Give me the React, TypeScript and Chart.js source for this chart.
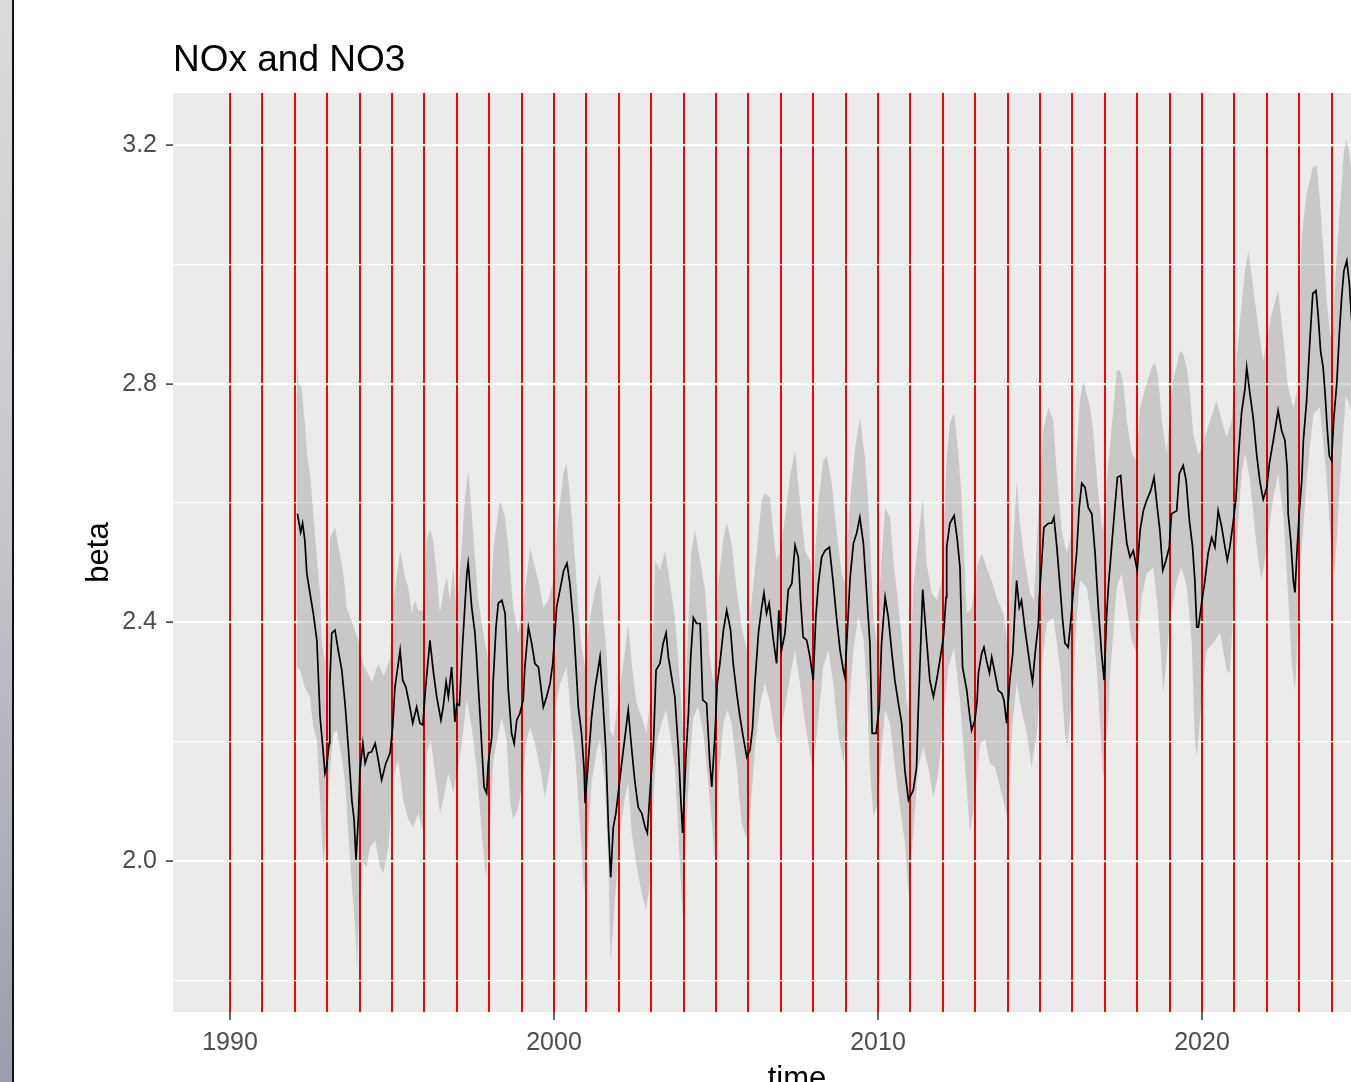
import React, { useEffect, useRef } from 'react';
import { Chart, registerables } from 'chart.js';

Chart.register(...registerables);

// ---------- text ----------
const chartTitle = 'NOx and NO3';
const xAxisTitle = 'time';
const yAxisTitle = 'beta';

// ---------- axes ----------
const vlineYears = [
  1990, 1991, 1992, 1993, 1994, 1995, 1996, 1997, 1998, 1999,
  2000, 2001, 2002, 2003, 2004, 2005, 2006, 2007, 2008, 2009,
  2010, 2011, 2012, 2013, 2014, 2015, 2016, 2017, 2018, 2019,
  2020, 2021, 2022, 2023, 2024,
];
const xLabelYears = [1990, 2000, 2010, 2020];
const yGridValues = [1.8, 2.0, 2.2, 2.4, 2.6, 2.8, 3.0, 3.2];
const yLabelValues = [2.0, 2.4, 2.8, 3.2];

// ---------- estimate line ----------
const lineTime = [
  1992.08, 1992.18, 1992.24, 1992.31, 1992.37, 1992.47, 1992.57, 1992.68, 1992.78, 1992.88, 1992.93, 1992.98,
  1993.06, 1993.08, 1993.14, 1993.24, 1993.34, 1993.45, 1993.55, 1993.65, 1993.76, 1993.83, 1993.89, 1993.96,
  1994.01, 1994.1, 1994.17, 1994.27, 1994.37, 1994.48, 1994.56, 1994.68, 1994.81, 1994.94,
  1995.02, 1995.09, 1995.25, 1995.33, 1995.43, 1995.53, 1995.64, 1995.76, 1995.86, 1995.95,
  1996.03, 1996.17, 1996.27, 1996.38, 1996.51, 1996.58, 1996.67, 1996.74, 1996.84, 1996.89, 1996.94,
  1997.0, 1997.08, 1997.18, 1997.31, 1997.35, 1997.46, 1997.56, 1997.61, 1997.72, 1997.84, 1997.92, 1997.97,
  1998.08, 1998.12, 1998.21, 1998.28, 1998.39, 1998.49, 1998.59, 1998.69, 1998.77, 1998.85, 1998.95,
  1999.05, 1999.1, 1999.21, 1999.31, 1999.41, 1999.52, 1999.67, 1999.77, 1999.88, 1999.96,
  2000.04, 2000.08, 2000.24, 2000.3, 2000.4, 2000.49, 2000.6, 2000.68, 2000.75, 2000.85, 2000.93, 2000.96,
  2001.06, 2001.16, 2001.27, 2001.37, 2001.42, 2001.5, 2001.6, 2001.68, 2001.75, 2001.83, 2001.91,
  2002.02, 2002.09, 2002.19, 2002.29, 2002.4, 2002.5, 2002.6, 2002.71, 2002.81, 2002.88, 2002.96,
  2003.07, 2003.15, 2003.27, 2003.37, 2003.46, 2003.53, 2003.63, 2003.73, 2003.84, 2003.91, 2003.97,
  2004.07, 2004.15, 2004.22, 2004.3, 2004.4, 2004.51, 2004.59, 2004.71, 2004.81, 2004.87, 2004.97,
  2005.04, 2005.12, 2005.23, 2005.33, 2005.45, 2005.53, 2005.64, 2005.74, 2005.84, 2005.95,
  2006.05, 2006.13, 2006.2, 2006.31, 2006.41, 2006.48, 2006.56, 2006.64, 2006.76, 2006.87, 2006.94,
  2007.02, 2007.13, 2007.23, 2007.34, 2007.44, 2007.54, 2007.61, 2007.69, 2007.8, 2007.9,
  2008.0, 2008.08, 2008.16, 2008.26, 2008.36, 2008.5, 2008.62, 2008.72, 2008.83, 2008.93, 2008.98,
  2009.05, 2009.14, 2009.24, 2009.34, 2009.44, 2009.55, 2009.65, 2009.75, 2009.82, 2009.94,
  2010.04, 2010.11, 2010.22, 2010.32, 2010.42, 2010.52, 2010.63, 2010.73, 2010.83, 2010.94,
  2011.09, 2011.19, 2011.24, 2011.3, 2011.38, 2011.5, 2011.6, 2011.71, 2011.81, 2011.91,
  2012.02, 2012.1, 2012.12, 2012.22, 2012.35, 2012.45, 2012.53, 2012.61, 2012.74, 2012.82, 2012.89, 2012.99,
  2013.06, 2013.1, 2013.2, 2013.27, 2013.35, 2013.44, 2013.51, 2013.61, 2013.71, 2013.82, 2013.89, 2013.97,
  2014.07, 2014.16, 2014.23, 2014.28, 2014.36, 2014.43, 2014.54, 2014.64, 2014.71, 2014.77, 2014.85, 2014.95, 2014.98,
  2015.05, 2015.12, 2015.26, 2015.36, 2015.43, 2015.52, 2015.62, 2015.7, 2015.77, 2015.87, 2015.95,
  2016.03, 2016.13, 2016.21, 2016.29, 2016.39, 2016.49, 2016.6, 2016.7, 2016.8, 2016.9, 2016.98,
  2017.06, 2017.11, 2017.21, 2017.31, 2017.39, 2017.49, 2017.57, 2017.68, 2017.78, 2017.88,
  2018.0, 2018.09, 2018.19, 2018.29, 2018.42, 2018.52, 2018.62, 2018.7, 2018.79, 2018.89, 2018.99,
  2019.06, 2019.22, 2019.3, 2019.42, 2019.51, 2019.61, 2019.71, 2019.78, 2019.84, 2019.89, 2019.99,
  2020.09, 2020.19, 2020.3, 2020.4, 2020.5, 2020.61, 2020.71, 2020.78, 2020.86, 2020.97,
  2021.05, 2021.12, 2021.22, 2021.33, 2021.38, 2021.48, 2021.58, 2021.69, 2021.79, 2021.89,
  2022.0, 2022.08, 2022.15, 2022.25, 2022.35, 2022.46, 2022.56, 2022.63, 2022.66, 2022.74, 2022.82, 2022.87, 2022.94,
  2023.0, 2023.08, 2023.13, 2023.23, 2023.33, 2023.42, 2023.52, 2023.59, 2023.66, 2023.74, 2023.8, 2023.87, 2023.93,
  2024.0, 2024.07, 2024.16, 2024.24, 2024.31, 2024.38, 2024.47, 2024.55, 2024.6, 2024.68,
];
const betaValues = [
  2.582, 2.551, 2.566, 2.537, 2.482, 2.448, 2.415, 2.37, 2.241, 2.181, 2.147, 2.157,
  2.197, 2.298, 2.382, 2.387, 2.353, 2.32, 2.264, 2.191, 2.102, 2.069, 2.002, 2.072,
  2.152, 2.197, 2.164, 2.181, 2.183, 2.197, 2.174, 2.136, 2.164, 2.181,
  2.224, 2.291, 2.353, 2.303, 2.291, 2.264, 2.231, 2.258, 2.231, 2.228,
  2.286, 2.37, 2.32, 2.275, 2.236, 2.258, 2.3, 2.275, 2.325, 2.281, 2.233,
  2.264, 2.261, 2.365, 2.482, 2.499, 2.425, 2.382, 2.342, 2.241, 2.124, 2.114, 2.164,
  2.208, 2.298, 2.392, 2.432, 2.437, 2.415, 2.286, 2.214, 2.197, 2.236, 2.248,
  2.27, 2.325, 2.392, 2.365, 2.331, 2.325, 2.258, 2.275, 2.298, 2.331,
  2.392, 2.425, 2.47, 2.487, 2.499, 2.465, 2.398, 2.325, 2.258, 2.214, 2.152, 2.097,
  2.169, 2.241, 2.291, 2.325, 2.342, 2.275, 2.186, 2.057, 1.973, 2.057, 2.08,
  2.131, 2.164, 2.208, 2.253, 2.186, 2.131, 2.09, 2.08, 2.057, 2.047, 2.114,
  2.197, 2.32, 2.331, 2.365, 2.382, 2.342, 2.308, 2.275, 2.186, 2.107, 2.047,
  2.174, 2.248, 2.342, 2.408, 2.398, 2.398, 2.27, 2.264, 2.164, 2.124, 2.214,
  2.298, 2.331, 2.387, 2.42, 2.387, 2.331, 2.281, 2.241, 2.208, 2.174,
  2.186, 2.224, 2.298, 2.382, 2.425, 2.449, 2.415, 2.432, 2.375, 2.331, 2.42,
  2.353, 2.382, 2.454, 2.465, 2.529, 2.509, 2.437, 2.375, 2.37, 2.342,
  2.303, 2.408, 2.465, 2.509, 2.52, 2.526, 2.465, 2.408, 2.353, 2.32, 2.308,
  2.382, 2.475, 2.532, 2.549, 2.576, 2.532, 2.449, 2.365, 2.214, 2.214,
  2.258, 2.365, 2.442, 2.408, 2.353, 2.303, 2.264, 2.231, 2.152, 2.102,
  2.119, 2.157, 2.248, 2.336, 2.455, 2.37, 2.303, 2.275, 2.303, 2.336,
  2.375, 2.442, 2.526, 2.566, 2.579, 2.537, 2.492, 2.325, 2.286, 2.248, 2.219, 2.236,
  2.269, 2.315, 2.348, 2.358, 2.336, 2.315, 2.342, 2.315, 2.286, 2.281, 2.269, 2.231,
  2.303, 2.348, 2.425, 2.47, 2.425, 2.437, 2.387, 2.348, 2.32, 2.3, 2.348, 2.398, 2.442,
  2.499, 2.559, 2.566, 2.566, 2.576, 2.526, 2.459, 2.403, 2.365, 2.358, 2.403,
  2.454, 2.516, 2.592, 2.633, 2.626, 2.592, 2.582, 2.516, 2.425, 2.348, 2.303,
  2.415, 2.459, 2.526, 2.592, 2.643, 2.646, 2.592, 2.532, 2.509, 2.52,
  2.487, 2.554, 2.587, 2.604, 2.621, 2.643, 2.592, 2.554, 2.487, 2.504, 2.526,
  2.582, 2.587, 2.649, 2.663, 2.638, 2.571, 2.526, 2.47, 2.392, 2.392, 2.432,
  2.47, 2.516, 2.542, 2.526, 2.587, 2.559, 2.526, 2.504, 2.526, 2.571,
  2.609, 2.676, 2.75, 2.793, 2.827, 2.783, 2.743, 2.68, 2.635, 2.606,
  2.626, 2.666, 2.688, 2.721, 2.755, 2.721, 2.705, 2.659, 2.582, 2.537, 2.47, 2.45, 2.526,
  2.582, 2.638, 2.705, 2.772, 2.872, 2.951, 2.956, 2.911, 2.855, 2.827, 2.783, 2.721, 2.679,
  2.671, 2.743, 2.8, 2.884, 2.944, 2.989, 3.006, 2.967, 2.922, 2.86,
];

// ---------- ribbon upper bound ----------
const upperTime = [
  1992.06, 1992.11, 1992.21, 1992.31, 1992.39, 1992.49, 1992.57, 1992.68, 1992.78, 1992.83, 1992.93,
  1993.03, 1993.09, 1993.24, 1993.37, 1993.5, 1993.6, 1993.77, 1993.96,
  1994.06, 1994.2, 1994.38, 1994.57, 1994.75, 1994.94,
  1995.04, 1995.25, 1995.4, 1995.5, 1995.61, 1995.71, 1995.81, 1995.97,
  1996.07, 1996.17, 1996.27, 1996.38, 1996.48, 1996.58, 1996.69, 1996.79, 1996.89,
  1997.0, 1997.15, 1997.25, 1997.36, 1997.46, 1997.56, 1997.66, 1997.82, 1997.97,
  1998.13, 1998.33, 1998.49, 1998.59, 1998.74, 1998.9,
  1999.1, 1999.26, 1999.41, 1999.52, 1999.67, 1999.82, 1999.98,
  2000.13, 2000.29, 2000.39, 2000.55, 2000.65, 2000.75, 2000.85, 2000.96,
  2001.11, 2001.27, 2001.42, 2001.52, 2001.63, 2001.73, 2001.83, 2001.98,
  2002.19, 2002.29, 2002.4, 2002.55, 2002.71, 2002.86,
  2003.02, 2003.12, 2003.27, 2003.43, 2003.58, 2003.73, 2003.89, 2003.99,
  2004.15, 2004.24, 2004.35, 2004.51, 2004.66, 2004.81, 2004.92,
  2005.07, 2005.23, 2005.33, 2005.48, 2005.64, 2005.79, 2005.95,
  2006.1, 2006.26, 2006.41, 2006.51, 2006.67, 2006.77, 2006.87, 2006.98,
  2007.13, 2007.28, 2007.44, 2007.59, 2007.75, 2007.9,
  2008.0, 2008.16, 2008.31, 2008.42, 2008.57, 2008.73, 2008.88, 2008.98,
  2009.14, 2009.29, 2009.44, 2009.6, 2009.7, 2009.86, 2009.96,
  2010.06, 2010.22, 2010.37, 2010.47, 2010.58, 2010.73, 2010.88, 2010.93,
  2011.09, 2011.24, 2011.38, 2011.5, 2011.66, 2011.81, 2011.97,
  2012.12, 2012.22, 2012.35, 2012.48, 2012.58, 2012.74, 2012.89,
  2013.05, 2013.2, 2013.35, 2013.51, 2013.66, 2013.87,
  2014.02, 2014.13, 2014.28, 2014.38, 2014.54, 2014.69, 2014.81, 2014.95,
  2015.1, 2015.26, 2015.41, 2015.52, 2015.67, 2015.82, 2015.93,
  2016.08, 2016.23, 2016.34, 2016.54, 2016.64, 2016.79, 2016.93,
  2017.11, 2017.26, 2017.37, 2017.47, 2017.57, 2017.68, 2017.83, 2017.98,
  2018.09, 2018.29, 2018.45, 2018.55, 2018.65, 2018.76, 2018.91,
  2019.11, 2019.32, 2019.42, 2019.53, 2019.63, 2019.73, 2019.89,
  2020.04, 2020.25, 2020.45, 2020.61, 2020.76, 2020.92,
  2021.17, 2021.33, 2021.43, 2021.58, 2021.74, 2021.89,
  2022.0, 2022.15, 2022.35, 2022.51, 2022.66, 2022.82, 2022.95,
  2023.08, 2023.23, 2023.42, 2023.54, 2023.64, 2023.74, 2023.85, 2023.95,
  2024.03, 2024.1, 2024.2, 2024.31, 2024.38, 2024.46, 2024.54, 2024.72,
];
const upperValues = [
  2.843, 2.8, 2.793, 2.733, 2.676, 2.638, 2.582, 2.509, 2.449, 2.37, 2.33,
  2.4, 2.542, 2.559, 2.52, 2.482, 2.425, 2.4, 2.37,
  2.336, 2.32, 2.3, 2.33, 2.31, 2.34,
  2.432, 2.52, 2.475, 2.459, 2.415, 2.437, 2.42, 2.42,
  2.537, 2.557, 2.537, 2.482, 2.415, 2.449, 2.475, 2.437, 2.492,
  2.415, 2.526, 2.609, 2.654, 2.582, 2.509, 2.437, 2.382, 2.336,
  2.526, 2.604, 2.576, 2.526, 2.425, 2.382,
  2.449, 2.526, 2.492, 2.47, 2.425, 2.437, 2.47,
  2.576, 2.649, 2.666, 2.576, 2.504, 2.42, 2.358, 2.325,
  2.408, 2.454, 2.482, 2.408, 2.342, 2.219, 2.208, 2.27,
  2.353, 2.398, 2.331, 2.264, 2.241, 2.214,
  2.298, 2.504, 2.487, 2.52, 2.465, 2.408, 2.298, 2.203,
  2.408, 2.52, 2.554, 2.504, 2.454, 2.342, 2.298,
  2.465, 2.542, 2.566, 2.532, 2.454, 2.392, 2.353,
  2.437, 2.52, 2.604, 2.616, 2.609, 2.549, 2.504, 2.52,
  2.576, 2.643, 2.688, 2.604, 2.52, 2.504,
  2.465, 2.599, 2.671, 2.679, 2.633, 2.549, 2.482, 2.465,
  2.604, 2.69, 2.743, 2.676, 2.599, 2.408, 2.365,
  2.465, 2.592, 2.576, 2.504, 2.454, 2.375, 2.27, 2.25,
  2.459, 2.537, 2.609, 2.499, 2.449, 2.437, 2.47,
  2.676, 2.733, 2.752, 2.683, 2.609, 2.415, 2.425,
  2.492, 2.516, 2.492, 2.47, 2.442, 2.415,
  2.358, 2.482, 2.638, 2.566, 2.499, 2.449, 2.437, 2.582,
  2.721, 2.76, 2.738, 2.649, 2.554, 2.516, 2.537,
  2.638, 2.771, 2.805, 2.76, 2.721, 2.621, 2.554,
  2.666, 2.755, 2.822, 2.822, 2.8, 2.738, 2.683, 2.671,
  2.76, 2.8, 2.827, 2.835, 2.81, 2.738, 2.683,
  2.805, 2.855, 2.85, 2.827, 2.783, 2.716, 2.68,
  2.7, 2.738, 2.771, 2.738, 2.71, 2.738,
  2.905, 2.989, 3.023, 2.961, 2.894, 2.838,
  2.877, 2.917, 2.956, 2.877, 2.793, 2.76, 2.79,
  3.05, 3.118, 3.162, 3.165, 3.106, 3.028, 2.939, 2.884,
  2.872, 2.961, 3.051, 3.135, 3.19, 3.21, 3.19, 3.1,
];

// ---------- ribbon lower bound ----------
const lowerTime = [
  1992.06, 1992.16, 1992.31, 1992.47, 1992.57, 1992.68, 1992.78, 1992.88, 1992.98,
  1993.09, 1993.19, 1993.29, 1993.45, 1993.55, 1993.65, 1993.76, 1993.86, 1993.91,
  1994.01, 1994.1, 1994.22, 1994.32, 1994.48, 1994.63, 1994.73, 1994.89,
  1995.04, 1995.19, 1995.35, 1995.5, 1995.66, 1995.81, 1995.97,
  1996.07, 1996.19, 1996.33, 1996.48, 1996.58, 1996.74, 1996.89,
  1997.0, 1997.15, 1997.31, 1997.46, 1997.61, 1997.77, 1997.9,
  1998.02, 1998.13, 1998.28, 1998.39, 1998.54, 1998.64, 1998.74, 1998.9,
  1999.0, 1999.16, 1999.26, 1999.41, 1999.57, 1999.72, 1999.88,
  2000.03, 2000.19, 2000.39, 2000.55, 2000.65, 2000.75, 2000.85, 2000.93,
  2001.06, 2001.16, 2001.32, 2001.42, 2001.57, 2001.68, 2001.75, 2001.88,
  2002.04, 2002.19, 2002.29, 2002.4, 2002.55, 2002.71, 2002.84, 2002.96,
  2003.07, 2003.17, 2003.32, 2003.46, 2003.58, 2003.73, 2003.84, 2003.94, 2003.99,
  2004.1, 2004.2, 2004.3, 2004.45, 2004.61, 2004.76, 2004.9, 2004.94,
  2005.07, 2005.23, 2005.35, 2005.48, 2005.64, 2005.79, 2005.93,
  2006.05, 2006.2, 2006.36, 2006.51, 2006.67, 2006.82, 2006.92,
  2007.08, 2007.28, 2007.44, 2007.59, 2007.75, 2007.88,
  2008.0, 2008.16, 2008.31, 2008.47, 2008.62, 2008.77, 2008.93,
  2009.08, 2009.24, 2009.39, 2009.55, 2009.65, 2009.75, 2009.86,
  2010.01, 2010.11, 2010.22, 2010.37, 2010.52, 2010.68, 2010.83, 2010.94,
  2011.09, 2011.24, 2011.4, 2011.55, 2011.71, 2011.86,
  2012.02, 2012.17, 2012.35, 2012.53, 2012.69, 2012.84, 2012.99,
  2013.15, 2013.3, 2013.46, 2013.61, 2013.77, 2013.92,
  2014.0, 2014.13, 2014.28, 2014.43, 2014.59, 2014.74, 2014.9,
  2015.05, 2015.21, 2015.41, 2015.62, 2015.77, 2015.84, 2015.98,
  2016.13, 2016.23, 2016.44, 2016.64, 2016.75, 2016.9, 2016.95,
  2017.11, 2017.15, 2017.37, 2017.52, 2017.68, 2017.83, 2017.98,
  2018.14, 2018.29, 2018.5, 2018.65, 2018.81,
  2019.01, 2019.22, 2019.37, 2019.53, 2019.68, 2019.78, 2019.84, 2019.99,
  2020.14, 2020.35, 2020.56, 2020.76, 2020.86,
  2021.07, 2021.22, 2021.33, 2021.48, 2021.69, 2021.84,
  2022.0, 2022.2, 2022.35, 2022.51, 2022.66, 2022.77, 2022.87, 2022.97,
  2023.08, 2023.23, 2023.44, 2023.64, 2023.85,
  2024.0, 2024.1, 2024.26, 2024.44, 2024.63,
];
const lowerValues = [
  2.325, 2.32, 2.291, 2.275, 2.224, 2.203, 2.102, 1.99, 2.052,
  2.157, 2.214, 2.219, 2.174, 2.131, 2.047, 1.963, 1.89, 1.823,
  1.935, 1.997, 1.99, 2.023, 2.035, 1.99, 1.98, 2.023,
  2.141, 2.169, 2.102, 2.069, 2.057, 2.08, 2.047,
  2.181, 2.203, 2.147, 2.08, 2.102, 2.147, 2.114,
  2.147, 2.197, 2.27, 2.224, 2.157, 2.047, 1.973,
  2.047, 2.169, 2.214, 2.241, 2.203, 2.102, 2.069, 2.09,
  2.124, 2.203, 2.224, 2.197, 2.157, 2.107, 2.157,
  2.253, 2.298, 2.325, 2.224, 2.18, 2.102, 2.018, 1.946,
  2.047, 2.131, 2.186, 2.203, 2.131, 1.99, 1.83, 1.935,
  2.047, 2.107, 2.131, 2.047, 1.99, 1.946, 1.918, 1.963,
  2.102, 2.197, 2.231, 2.253, 2.214, 2.157, 2.047, 1.935, 1.896,
  2.074, 2.174, 2.241, 2.258, 2.214, 2.131, 2.047, 2.002,
  2.131, 2.231, 2.253, 2.231, 2.157, 2.064, 2.04,
  2.074, 2.186, 2.264, 2.298, 2.264, 2.214, 2.197,
  2.241, 2.308, 2.353, 2.298, 2.231, 2.186,
  2.152, 2.241, 2.325, 2.353, 2.298, 2.214, 2.164,
  2.241, 2.353, 2.408, 2.375, 2.298, 2.157, 2.074,
  2.102, 2.186, 2.253, 2.231, 2.157, 2.09, 2.03, 1.946,
  2.047, 2.157, 2.191, 2.157, 2.107, 2.147,
  2.241, 2.325, 2.358, 2.269, 2.157, 2.047, 2.102,
  2.197, 2.203, 2.164, 2.157, 2.124, 2.09,
  2.069, 2.214, 2.298, 2.253, 2.214, 2.157, 2.214,
  2.325, 2.398, 2.408, 2.325, 2.214, 2.191, 2.269,
  2.403, 2.47, 2.459, 2.387, 2.325, 2.186, 2.136,
  2.241, 2.303, 2.459, 2.482, 2.425, 2.37, 2.348,
  2.442, 2.482, 2.492, 2.415, 2.281,
  2.403, 2.47, 2.492, 2.459, 2.37, 2.203, 2.174, 2.269,
  2.353, 2.365, 2.382, 2.32, 2.315,
  2.526, 2.649, 2.683, 2.638, 2.526, 2.47,
  2.526, 2.609, 2.649, 2.582, 2.442, 2.331, 2.286, 2.392,
  2.526, 2.638, 2.75, 2.76, 2.638,
  2.516, 2.482, 2.638, 2.78, 2.75,
];

// ---------- layout constants ----------
const CANVAS_W = 1440;
const CANVAS_H = 1110;
const PANEL_LEFT = 173;
const PANEL_TOP = 93;
const PANEL_RIGHT = 1421;
const PANEL_BOTTOM = 1012;
const X_MIN = 1988.24;
const X_MAX = 2026.76;
const Y_MIN = 1.747;
const Y_MAX = 3.287;
const FONT = '"Liberation Sans", Arial, Helvetica, sans-serif';

const toPoints = (xs: number[], ys: number[]) => xs.map((x, i) => ({ x, y: ys[i] }));
const isIn = (arr: number[], v: number) => arr.some((a) => Math.abs(a - v) < 1e-9);

export default function App() {
  const ref = useRef<HTMLCanvasElement | null>(null);

  useEffect(() => {
    if (!ref.current) return;

    const panelBg = {
      id: 'panelBg',
      beforeDraw(chart: any) {
        const { ctx, chartArea } = chart;
        ctx.save();
        ctx.fillStyle = '#EBEBEB';
        ctx.fillRect(chartArea.left, chartArea.top, chartArea.right - chartArea.left, chartArea.bottom - chartArea.top);
        ctx.restore();
      },
    };
    const titlePlugin = {
      id: 'ggTitle',
      afterDraw(chart: any) {
        const { ctx, chartArea } = chart;
        ctx.save();
        ctx.font = `37px ${FONT}`;
        ctx.fillStyle = '#000000';
        ctx.textAlign = 'left';
        ctx.textBaseline = 'alphabetic';
        ctx.fillText(chartTitle, chartArea.left, 71);
        ctx.restore();
      },
    };

    const chart = new Chart(ref.current, {
      type: 'line',
      data: {
        datasets: [
          {
            label: 'beta',
            data: toPoints(lineTime, betaValues),
            borderColor: '#000000',
            borderWidth: 1.7,
            pointRadius: 0,
            fill: false,
            tension: 0,
          },
          {
            label: 'upper',
            data: toPoints(upperTime, upperValues),
            borderColor: 'rgba(0,0,0,0)',
            borderWidth: 0,
            pointRadius: 0,
            fill: '+1',
            backgroundColor: 'rgba(0,0,0,0.15)',
            tension: 0,
          },
          {
            label: 'lower',
            data: toPoints(lowerTime, lowerValues),
            borderColor: 'rgba(0,0,0,0)',
            borderWidth: 0,
            pointRadius: 0,
            fill: false,
            tension: 0,
          },
        ],
      },
      options: {
        responsive: false,
        devicePixelRatio: 1,
        animation: false,
        events: [],
        layout: {
          padding: { top: PANEL_TOP, left: 0, right: CANVAS_W - PANEL_RIGHT, bottom: 0 },
        },
        plugins: {
          legend: { display: false },
          tooltip: { enabled: false },
          title: { display: false },
        },
        scales: {
          x: {
            type: 'linear',
            min: X_MIN,
            max: X_MAX,
            z: 1,
            afterBuildTicks: (scale: any) => {
              scale.ticks = vlineYears.map((v) => ({ value: v }));
            },
            afterFit: (scale: any) => {
              scale.height = CANVAS_H - PANEL_BOTTOM;
            },
            ticks: {
              autoSkip: false,
              maxRotation: 0,
              minRotation: 0,
              padding: 8,
              color: '#4D4D4D',
              font: { family: FONT, size: 25 },
              callback: (value: any) => (isIn(xLabelYears, Number(value)) ? String(value) : ''),
            },
            grid: {
              color: '#FF0000',
              lineWidth: 2,
              drawTicks: true,
              tickLength: 8,
              tickWidth: 1.5,
              tickColor: (ctx: any) =>
                ctx.tick && isIn(xLabelYears, ctx.tick.value) ? '#333333' : 'rgba(0,0,0,0)',
            },
            border: { display: false },
            title: {
              display: true,
              text: xAxisTitle,
              color: '#000000',
              font: { family: FONT, size: 31 },
              padding: { top: 0, bottom: 12 },
            },
          },
          y: {
            type: 'linear',
            min: Y_MIN,
            max: Y_MAX,
            afterBuildTicks: (scale: any) => {
              scale.ticks = yGridValues.map((v) => ({ value: v }));
            },
            afterFit: (scale: any) => {
              scale.width = PANEL_LEFT;
            },
            ticks: {
              autoSkip: false,
              padding: 9,
              color: '#4D4D4D',
              font: { family: FONT, size: 25 },
              callback: (value: any) => (isIn(yLabelValues, Number(value)) ? Number(value).toFixed(1) : ''),
            },
            grid: {
              color: '#FFFFFF',
              lineWidth: (ctx: any) => (ctx.tick && isIn(yLabelValues, ctx.tick.value) ? 2.2 : 1.3),
              drawTicks: true,
              tickLength: 7,
              tickWidth: 1.5,
              tickColor: (ctx: any) =>
                ctx.tick && isIn(yLabelValues, ctx.tick.value) ? '#333333' : 'rgba(0,0,0,0)',
            },
            border: { display: false },
            title: {
              display: true,
              text: yAxisTitle,
              color: '#000000',
              font: { family: FONT, size: 31 },
              padding: { top: 81, bottom: 0 },
            },
          },
        },
      },
      plugins: [panelBg, titlePlugin],
    } as any);

    return () => {
      chart.destroy();
    };
  }, []);

  return (
    <div
      style={{
        position: 'fixed',
        left: 0,
        top: 0,
        width: '100vw',
        height: '100vh',
        overflow: 'hidden',
        background: '#FFFFFF',
      }}
    >
      <canvas
        ref={ref}
        width={CANVAS_W}
        height={CANVAS_H}
        style={{ position: 'absolute', left: 0, top: 0, width: CANVAS_W, height: CANVAS_H }}
      />
      <div
        style={{
          position: 'absolute',
          left: 0,
          top: 0,
          width: 12,
          height: '100%',
          background: 'linear-gradient(#dcdcde, #c4c5ca 50%, #9a9dab)',
        }}
      />
      <div style={{ position: 'absolute', left: 12, top: 0, width: 2, height: '100%', background: '#141414' }} />
    </div>
  );
}
